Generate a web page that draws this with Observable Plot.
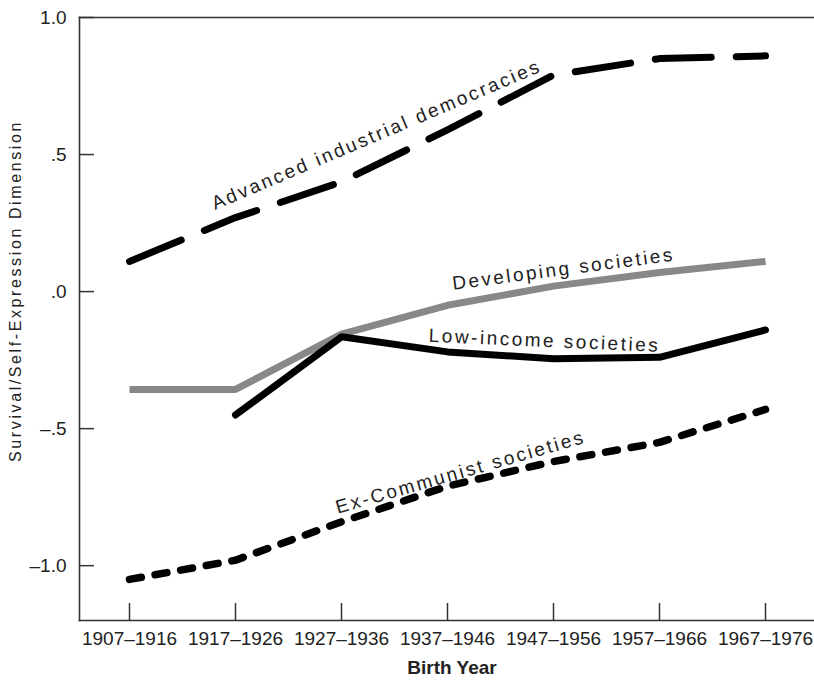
<!DOCTYPE html>
<html><head><meta charset="utf-8">
<script src="https://cdn.jsdelivr.net/npm/d3@7"></script>
<script src="https://cdn.jsdelivr.net/npm/@observablehq/plot@0.6"></script>
<style>
html,body{margin:0;padding:0;background:#fff;overflow:hidden;}
g[aria-description="line-labels"] text { letter-spacing: 2.5px; }
g[aria-description="y-title"] text { letter-spacing: 2.6px; }
</style></head><body><div id="chart"></div>
<script>
const birthYears = ["1907–1916","1917–1926","1927–1936","1937–1946","1947–1956","1957–1966","1967–1976"];
const advanced    = [0.11, 0.27, 0.40, 0.59, 0.79, 0.85, 0.86];
const developing  = [-0.357, -0.357, -0.155, -0.05, 0.02, 0.07, 0.11];
const lowIncome   = [NaN, -0.45, -0.165, -0.22, -0.245, -0.24, -0.14];
const exCommunist = [-1.05, -0.98, -0.84, -0.71, -0.62, -0.55, -0.43];
const seriesNames = ["Advanced industrial democracies","Developing societies","Low-income societies","Ex-Communist societies"];
const yTickValues = [-1, -0.5, 0, 0.5, 1];
const yTickLabels = ["–1.0","–.5",".0",".5","1.0"];
const yTitle = "Survival/Self-Expression Dimension";
const xTitle = "Birth Year";

const rows = (vals) => birthYears.map((b, i) => ({year: b, value: vals[i]}));
const font = "Liberation Sans, Arial, Helvetica, sans-serif";
const W = 814, H = 681, ML = 79, MR = 0, MT = 17, MB = 61;

// label anchors: series value at a chosen cohort, then offset
const lab = (vals, idx, name) => [{year: birthYears[idx], value: vals[idx], name}];

const chart = Plot.plot({
  width: W, height: H,
  marginLeft: ML, marginRight: MR, marginTop: MT, marginBottom: MB,
  style: {fontFamily: font, fontSize: "19px", color: "#222", background: "#fff"},
  x: {type: "point", domain: birthYears, padding: 0.46, align: 0.5},
  y: {domain: [-1.2, 1.0]},
  marks: [
    Plot.frame({anchor: "top", stroke: "#333", strokeWidth: 1.6}),
    Plot.frame({anchor: "left", stroke: "#333", strokeWidth: 1.6}),
    Plot.frame({anchor: "bottom", stroke: "#333", strokeWidth: 1.6}),
    Plot.tickX(birthYears, {x: d => d, insetTop: (H - MB - MT) - 17, stroke: "#333", strokeWidth: 1.5}),
    Plot.tickY(yTickValues, {y: d => d, insetRight: (W - ML - MR) - 15, stroke: "#333", strokeWidth: 1.5}),
    Plot.axisY(yTickValues, {tickSize: 0, tickPadding: 13, fontSize: 19, label: null,
      tickFormat: d => yTickLabels[yTickValues.indexOf(d)]}),
    Plot.axisX({tickSize: 0, tickPadding: 11, fontSize: 19, label: null}),
    Plot.line(rows(advanced), {x: "year", y: "value", stroke: "#000", strokeWidth: 7,
      strokeLinecap: "round", strokeLinejoin: "round", strokeDasharray: "56,25"}),
    Plot.line(rows(developing), {x: "year", y: "value", stroke: "#888", strokeWidth: 7,
      strokeLinecap: "butt", strokeLinejoin: "miter"}),
    Plot.line(rows(lowIncome), {x: "year", y: "value", stroke: "#000", strokeWidth: 7,
      strokeLinecap: "round", strokeLinejoin: "miter"}),
    Plot.line(rows(exCommunist), {x: "year", y: "value", stroke: "#000", strokeWidth: 7.5,
      strokeLinecap: "round", strokeLinejoin: "round", strokeDasharray: "12,14"}),
    Plot.text(lab(advanced, 3, seriesNames[0]), {x: "year", y: "value", text: "name",
      rotate: -23, dx: -71, dy: 5, fontSize: 19, fill: "#222", ariaDescription: "line-labels"}),
    Plot.text(lab(developing, 4, seriesNames[1]), {x: "year", y: "value", text: "name",
      rotate: -7.5, dx: 10, dy: -17, fontSize: 19, fill: "#222", ariaDescription: "line-labels"}),
    Plot.text(lab(lowIncome, 4, seriesNames[2]), {x: "year", y: "value", text: "name",
      rotate: 2.5, dx: -9, dy: -18, fontSize: 19, fill: "#222", ariaDescription: "line-labels"}),
    Plot.text(lab(exCommunist, 3, seriesNames[3]), {x: "year", y: "value", text: "name",
      rotate: -16, dx: 13, dy: -14, fontSize: 19, fill: "#222", ariaDescription: "line-labels"}),
    Plot.text([yTitle], {frameAnchor: "left", text: d => d, textAnchor: "middle", rotate: -90,
      dx: -64, dy: -28, fontSize: 16, fill: "#222", ariaDescription: "y-title"}),
    Plot.text([xTitle], {frameAnchor: "bottom", text: d => d, dx: 5, dy: 53,
      fontSize: 19, fontWeight: "bold", fill: "#222"})
  ]
});
document.getElementById("chart").appendChild(chart);
</script>
</body></html>
